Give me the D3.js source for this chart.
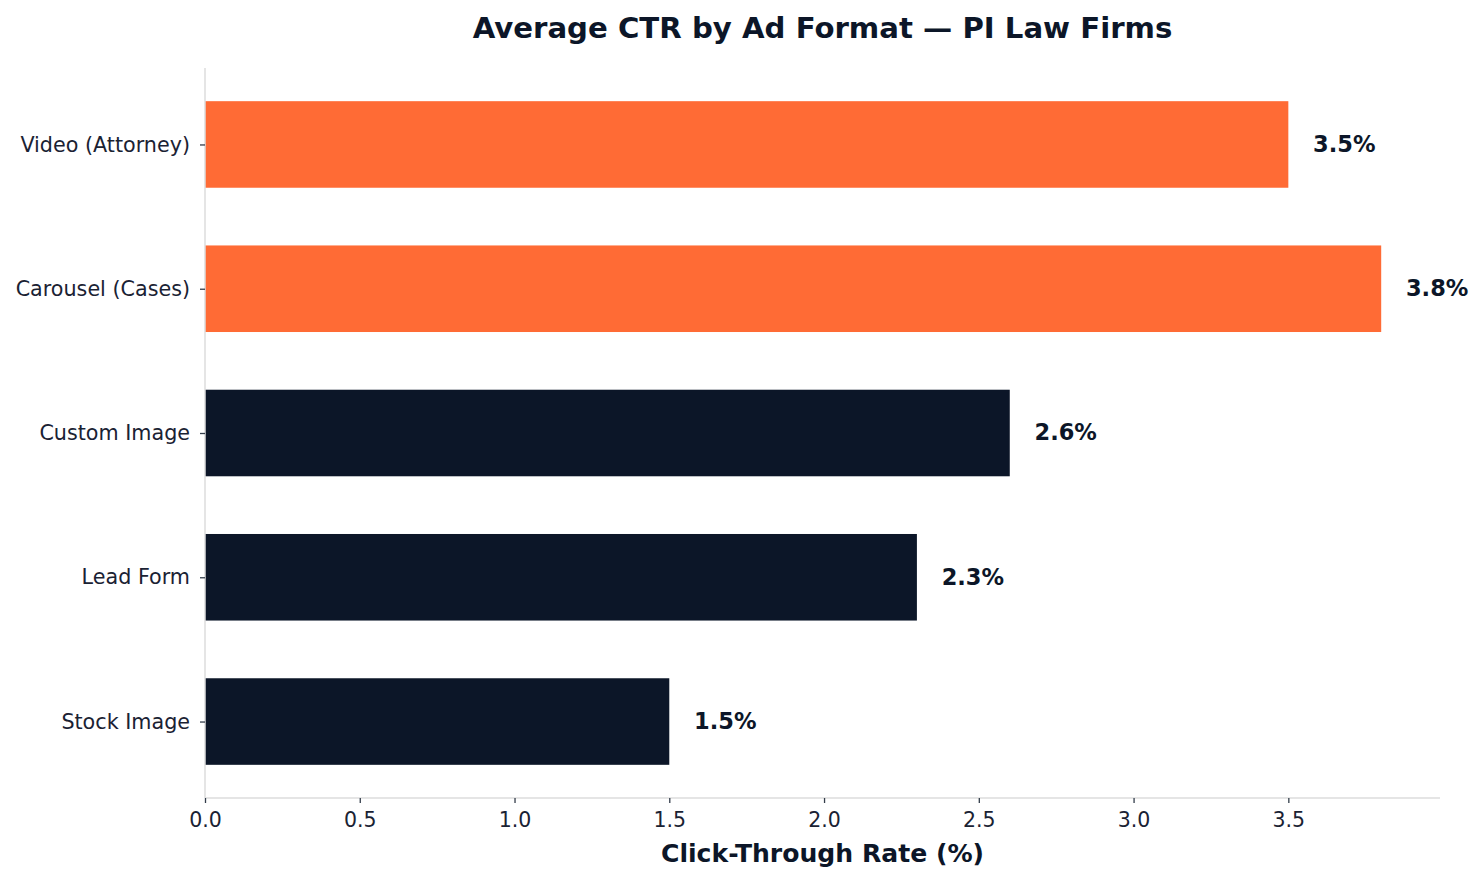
<!DOCTYPE html>
<html lang="en">
<head>
  <meta charset="UTF-8">
  <title>Average CTR by Ad Format — PI Law Firms</title>
  <script src="https://d3js.org/d3.v7.min.js"></script>
  <style>
    body {
      margin: 0;
      background: #fff;
      font-family: "DejaVu Sans", sans-serif;
    }
    .tick text {
      font-family: "DejaVu Sans", sans-serif;
    }
  </style>
</head>
<body>
  <div id="chart"></div>

  <script>
    // Data (top to bottom)
    const formats = ["Video (Attorney)", "Carousel (Cases)", "Custom Image", "Lead Form", "Stock Image"];
    const ctr = [3.5, 3.8, 2.6, 2.3, 1.5];
    const highlighted = [true, true, false, false, false];
    const xTicks = [0, 0.5, 1.0, 1.5, 2.0, 2.5, 3.0, 3.5];

    const width = 1483;
    const height = 880;
    const margin = { top: 68, right: 43, bottom: 82, left: 205 };
    const innerW = width - margin.left - margin.right;
    const innerH = height - margin.top - margin.bottom;

    const navy = "#0c1628";
    const orange = "#ff6b35";

    const svg = d3
      .select("#chart")
      .append("svg")
      .attr("width", width)
      .attr("height", height);

    const g = svg.append("g")
      .attr("transform", `translate(${margin.left},${margin.top})`);

    // x limits like matplotlib: max * 1.05
    const xScale = d3.scaleLinear()
      .domain([0, d3.max(ctr) * 1.05])
      .range([0, innerW]);

    // category index scale with 0.05 margins around bars of height 0.6
    const yIdx = d3.scaleLinear()
      .domain([-0.53, formats.length - 1 + 0.53])
      .range([0, innerH]);
    const barH = yIdx(0.3) - yIdx(-0.3);

    // bars
    g.selectAll(".bar")
      .data(formats)
      .enter()
      .append("rect")
      .attr("class", "bar")
      .attr("x", 0)
      .attr("y", (d, i) => yIdx(i) - barH / 2)
      .attr("width", (d, i) => xScale(ctr[i]))
      .attr("height", barH)
      .attr("fill", (d, i) => highlighted[i] ? orange : navy);

    // value labels
    g.selectAll(".val")
      .data(formats)
      .enter()
      .append("text")
      .attr("class", "val")
      .attr("x", (d, i) => xScale(ctr[i] + 0.08))
      .attr("y", (d, i) => yIdx(i))
      .attr("dy", "0.33em")
      .attr("font-size", 22.5)
      .attr("font-weight", "bold")
      .attr("fill", navy)
      .text((d, i) => ctr[i].toFixed(1) + "%");

    // x axis
    const xAxis = g.append("g")
      .attr("transform", `translate(0,${innerH})`)
      .call(d3.axisBottom(xScale).tickValues(xTicks).tickFormat(d3.format(".1f")).tickSize(5).tickPadding(9));
    xAxis.select(".domain").attr("stroke", "#dddddd").attr("stroke-width", 1.5).attr("d", `M0,0H${innerW}`);
    xAxis.selectAll(".tick line").attr("stroke", "#333d4a").attr("stroke-width", 1.3);
    xAxis.selectAll(".tick text").attr("font-size", 20.5).attr("fill", "#1a2233");

    // y axis
    const yAxis = g.append("g")
      .call(d3.axisLeft(yIdx).tickValues(d3.range(formats.length)).tickFormat(i => formats[i]).tickSize(5).tickPadding(10));
    yAxis.select(".domain").attr("stroke", "#dddddd").attr("stroke-width", 1.5).attr("d", `M0,0V${innerH}`);
    yAxis.selectAll(".tick line").attr("stroke", "#333d4a").attr("stroke-width", 1.3);
    yAxis.selectAll(".tick text").attr("font-size", 20.7).attr("fill", "#1a2233");

    // title
    svg.append("text")
      .attr("x", margin.left + innerW / 2)
      .attr("y", 38)
      .attr("text-anchor", "middle")
      .attr("font-size", 29.2)
      .attr("font-weight", "bold")
      .attr("fill", navy)
      .text("Average CTR by Ad Format — PI Law Firms");

    // x label
    svg.append("text")
      .attr("x", margin.left + innerW / 2)
      .attr("y", 862)
      .attr("text-anchor", "middle")
      .attr("font-size", 25.1)
      .attr("font-weight", "bold")
      .attr("fill", navy)
      .text("Click-Through Rate (%)");
  </script>
</body>
</html>
